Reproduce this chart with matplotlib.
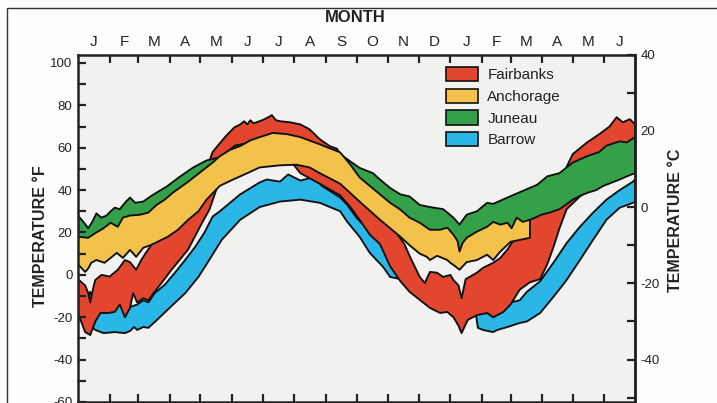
import numpy as np
import matplotlib.pyplot as plt
from matplotlib.patches import Patch, Rectangle
from matplotlib.ticker import MultipleLocator

plt.rcParams['font.family'] = ['Liberation Sans', 'DejaVu Sans']
plt.rcParams['axes.unicode_minus'] = False

# Jan of year 1 through Jun of year 2
month_letters = ['J', 'F', 'M', 'A', 'M', 'J', 'J', 'A', 'S', 'O', 'N', 'D',
                 'J', 'F', 'M', 'A', 'M', 'J']
month_days = [31, 28, 31, 30, 31, 30, 31, 31, 30, 31, 30, 31,
              31, 28, 31, 30, 31, 30]

stations = ['Fairbanks', 'Anchorage', 'Juneau', 'Barrow']
colors = ['#e2462f', '#f3c24a', '#35a04a', '#2ab6e6']

# daily temperature envelopes, (day, deg F)
fairbanks_hi = [(0, -2), (7, -5), (10, -8.5), (12, -13), (15, -6), (17, -2.4), (23, 0), (31, -0.8),
                (39, 2.4), (46, 7), (51, 6), (57, 2.4), (62, 7), (66, 10), (71, 13.5), (80, 20),
                (95, 26), (110, 33), (120, 42), (126, 50), (132, 58), (138, 61.5), (145, 65.5),
                (153, 69.5), (159, 71), (163, 72.5), (166, 71), (169, 73), (172, 71.5), (178, 72.5),
                (183, 73.5), (187, 74.5), (190, 75.4), (194, 73), (198, 72.5), (208, 72), (218, 71),
                (227, 68.7), (237, 64), (247, 60.7), (254, 59.5), (259, 55), (267, 48), (273, 40),
                (281, 35), (289, 32), (297, 28), (304, 24), (312, 20), (320, 14.5), (325, 9),
                (330, 4), (335, -1), (340, -3.8), (345, 1.4), (352, 1), (358, -1), (365, 0),
                (368, -2.4), (373, -5), (376, -11), (380, -2), (391, 1), (397, 3.3), (407, 5.7),
                (414, 8), (421, 12), (432, 20), (443, 30), (455, 36), (471, 42), (478, 50),
                (485, 57), (499, 62.5), (511, 66.4), (521, 70), (528, 74.4), (534, 72),
                (541, 73.5), (546, 71)]
fairbanks_lo = [(0, -18), (7, -27), (12, -28.4), (17, -22), (22, -18), (29, -18), (36, -17.5),
                (41, -14), (46, -20), (51, -15.6), (54, -8.7), (58, -13), (64, -11), (69, -12),
                (75, -8), (80, -5), (91, 2), (108, 12), (121, 24), (129, 31), (139, 45), (159, 51),
                (178, 53.5), (198, 54.5), (208, 54), (218, 48), (237, 43), (257, 37.5), (267, 32),
                (276, 26), (286, 19), (296, 14.5), (306, 4), (316, -3), (325, -8), (335, -11.8),
                (345, -15.6), (355, -18), (362, -17.5), (368, -20), (373, -24), (376, -27.5),
                (382, -21.3), (391, -19), (401, -18), (407, -20), (417, -17.5), (424, -14),
                (433, -7), (443, -3.5), (453, -2), (460, 5), (466, 13), (472, 22), (479, 31),
                (492, 37), (505, 42), (518, 44), (531, 47), (546, 50)]

anchorage_hi = [(0, 18), (10, 17.5), (18, 20), (25, 22), (32, 24.6), (39, 22.7), (44, 27), (51, 28),
                (61, 28.4), (69, 29.4), (77, 33), (85, 35.5), (93, 38.8), (107, 43.6), (120, 48.5),
                (132, 53), (139, 56), (149, 59), (159, 60.8), (169, 63.5), (178, 65), (191, 67),
                (205, 66.4), (218, 65), (237, 61.6), (257, 57.8), (267, 52), (276, 46), (286, 42),
                (296, 38), (306, 34), (316, 30.8), (325, 27), (335, 24.6), (345, 21.3), (355, 21.3),
                (362, 22.3), (368, 19), (372, 16), (374, 11), (377, 15), (381, 17.5), (391, 20.4),
                (401, 22.7), (407, 25), (414, 23.7), (421, 24.6), (425, 22), (430, 27), (436, 25),
                (443, 26)]
anchorage_lo = [(0, 5), (7, 1.4), (10, 3), (13, 5.7), (18, 7), (26, 5.7), (32, 8), (38, 10.4),
                (44, 8), (51, 11.8), (57, 8.5), (64, 12.8), (71, 14), (78, 15.6), (88, 18),
                (98, 21.3), (108, 26), (118, 30), (126, 35.5), (139, 42), (152, 45), (166, 48),
                (178, 50.7), (198, 51.7), (214, 52), (227, 50.7), (237, 48), (257, 43), (276, 34.6),
                (296, 26), (316, 18), (325, 14), (335, 10), (342, 8.5), (345, 7), (352, 9), (362, 7),
                (365, 5.7), (370, 4), (374, 2.4), (377, 4), (381, 6), (391, 7), (401, 9.5), (407, 7),
                (414, 11), (424, 15.6), (433, 16.5), (443, 17.5)]

juneau_hi = [(0, 28), (7, 24), (10, 22), (14, 25), (18, 29), (23, 27), (28, 28), (32, 30), (36, 31.7),
             (41, 31), (46, 34), (51, 36.5), (56, 34), (64, 34.6), (71, 37), (77, 38.8), (87, 41.7),
             (100, 46.4), (113, 50.7), (126, 54), (139, 55.5), (154, 61), (169, 62.5), (191, 66),
             (218, 64), (237, 60.5), (257, 57), (267, 53.5), (276, 50.5), (289, 48), (296, 45),
             (306, 41), (316, 38), (325, 37), (335, 33), (345, 32), (358, 31), (368, 27),
             (374, 23.7), (381, 28.4), (391, 30), (401, 34), (407, 33.5), (421, 36.5), (433, 39),
             (450, 42.5), (460, 46.5), (472, 48), (485, 53), (499, 56), (511, 58), (518, 61),
             (531, 63), (538, 62.5), (546, 65)]
juneau_lo = [(0, 13), (10, 12.5), (18, 15), (32, 19), (51, 23), (69, 24), (85, 30), (103, 38),
             (120, 44), (139, 50), (159, 54), (178, 58), (198, 60), (218, 58), (237, 55), (257, 50),
             (276, 40), (296, 32), (316, 25), (335, 19), (355, 16), (374, 8), (391, 15), (407, 20),
             (425, 18), (443, 26), (448, 27), (455, 28.5), (463, 29.5), (472, 31), (478, 33),
             (485, 35.5), (493, 37.5), (501, 39), (508, 40), (515, 42), (523, 43.5), (531, 45),
             (538, 46.5), (546, 48)]

barrow_hi = [(0, -14), (10, -12), (12, -8), (15, -11), (22, -12), (36, -13), (46, -15), (52, -15),
             (58, -14), (64, -12), (69, -13), (75, -8.7), (85, -4.7), (95, 1), (105, 7), (115, 13.3),
             (124, 20), (132, 27.5), (139, 30), (159, 38), (178, 43.6), (185, 45), (198, 44),
             (206, 47.4), (218, 44.5), (230, 46), (240, 41.7), (257, 36.5), (264, 33), (273, 27),
             (281, 23), (289, 19), (299, 13.3), (306, 5), (316, 0), (335, -6), (355, -12),
             (368, -14), (376, -18), (391, -17), (407, -16), (417, -15), (424, -13), (433, -12),
             (440, -8), (453, -3), (466, 5.7), (479, 15), (492, 22.7), (505, 29.4), (518, 35.5),
             (531, 40), (544, 44), (546, 45)]
barrow_lo = [(0, -21), (7, -22), (12, -24), (17, -26), (25, -27.5), (36, -27), (46, -27.5),
             (51, -26.5), (55, -24.6), (58, -26), (64, -24.6), (69, -25), (78, -21), (91, -15),
             (105, -8.7), (118, -1), (126, 5), (141, 16.6), (159, 26), (178, 32), (198, 34.6),
             (218, 35.5), (237, 34), (257, 30), (264, 25), (276, 18), (286, 10.4), (299, 3.8),
             (306, -1), (316, -2), (335, -10), (355, -16), (368, -18), (376, -22), (382, -20),
             (390, -18.5), (392, -25), (397, -26), (407, -27), (411, -26), (421, -24.6),
             (433, -22.7), (440, -22), (453, -18), (466, -10.4), (479, -2.4), (492, 7),
             (505, 16.6), (518, 26), (531, 31.7), (544, 34), (546, 34.5)]


def band(ax, lo, hi, color):
    lo = np.array(lo)
    hi = np.array(hi)[::-1]
    xs = np.concatenate([lo[:, 0], hi[:, 0]])
    ys = np.concatenate([lo[:, 1], hi[:, 1]])
    ax.fill(xs, ys, facecolor=color, edgecolor='#111111', linewidth=1.35, joinstyle='round')


fig = plt.figure(figsize=(7.17, 4.03), dpi=100, facecolor='#fdfdfd')
ax = fig.add_axes([78 / 717, 1 / 403, 557 / 717, 347.5 / 403], facecolor='#f1f1f0')

# drawing order: Barrow, Fairbanks, Juneau, Anchorage
band(ax, barrow_lo, barrow_hi, colors[3])
band(ax, fairbanks_lo, fairbanks_hi, colors[0])
band(ax, juneau_lo, juneau_hi, colors[2])
band(ax, anchorage_lo, anchorage_hi, colors[1])

edges = np.concatenate([[0], np.cumsum(month_days)])
centers = (edges[:-1] + edges[1:]) / 2
ax.set_xlim(0, edges[-1])
ax.set_ylim(-60, 104)

ax.set_xticks(edges[1:-1])
ax.set_xticks(centers, minor=True)
ax.set_xticklabels(month_letters, minor=True)
ax.tick_params(axis='x', which='major', direction='in', top=True, bottom=True,
               length=6, width=1.6, color='#222222', labelbottom=False)
ax.tick_params(axis='x', which='minor', length=0, top=False, bottom=False,
               labeltop=True, labelbottom=False, labelsize=11, pad=4, labelcolor='#222222')

ax.set_yticks(range(-60, 101, 20))
ax.yaxis.set_minor_locator(MultipleLocator(10))
ax.tick_params(axis='y', which='both', direction='in', left=True, right=False,
               length=6, width=1.6, color='#222222', labelsize=9.5, pad=4, labelcolor='#222222')

sec = ax.secondary_yaxis('right', functions=(lambda f: (f - 32) * 5 / 9, lambda c: c * 9 / 5 + 32))
sec.set_yticks([-40, -20, 0, 20, 40])
sec.yaxis.set_minor_locator(MultipleLocator(10))
sec.tick_params(which='both', direction='in', length=6, width=1.6, color='#222222',
                labelsize=9.5, pad=4, labelcolor='#222222')
sec.spines['right'].set_linewidth(1.8)
sec.spines['right'].set_color('#222222')

for s in ax.spines.values():
    s.set_linewidth(1.8)
    s.set_color('#222222')

fig.text(355 / 717, 1 - 17 / 403, 'MONTH', ha='center', va='center',
         fontsize=12, fontweight='bold', color='#222222')
fig.text(41 / 717, 1 - 236 / 403, 'TEMPERATURE °F', ha='center', va='center', rotation=90,
         fontsize=11.5, fontweight='bold', color='#222222')
fig.text(676 / 717, 1 - 220 / 403, 'TEMPERATURE °C', ha='center', va='center', rotation=90,
         fontsize=11.5, fontweight='bold', color='#222222')

handles = [Patch(facecolor=c, edgecolor='#111111', linewidth=1.2, label=n)
           for n, c in zip(stations, colors)]
ax.legend(handles=handles, loc='upper left', bbox_to_anchor=((446 - 78) / 557, (402 - 67) / 347.5),
          frameon=False, fontsize=11, handlelength=2.1, handleheight=1.05, labelspacing=0.42,
          handletextpad=0.6, borderpad=0, borderaxespad=0, labelcolor='#222222')

# outer border of the figure panel
fig.add_artist(Rectangle((7 / 717, -0.5), 2, 0.5 + 1 - 8 / 403, transform=fig.transFigure,
                         fill=False, edgecolor='#333333', linewidth=1.0))

fig.savefig('out.png', dpi=100, facecolor=fig.get_facecolor())
